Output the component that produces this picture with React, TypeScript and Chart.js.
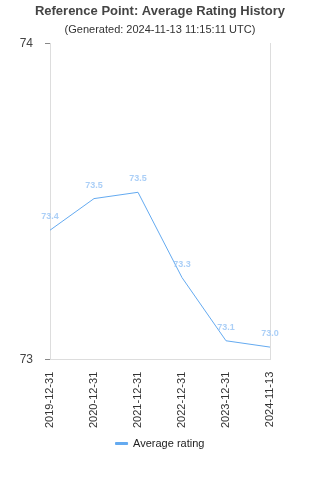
import React, { useEffect, useRef } from "react";
import { Chart, registerables } from "chart.js";

Chart.register(...registerables);

const categories = ["2019-12-31", "2020-12-31", "2021-12-31", "2022-12-31", "2023-12-31", "2024-11-13"];
const ratings = [73.41, 73.51, 73.53, 73.26, 73.06, 73.04];
const yTicks = [73, 74];

const labelPlugin = {
  id: "pointLabels",
  afterDatasetsDraw(chart: any) {
    const ctx = chart.ctx;
    const meta = chart.getDatasetMeta(0);
    ctx.save();
    ctx.font = "bold 9px 'Liberation Sans', Arial, sans-serif";
    ctx.fillStyle = "rgba(150,195,245,0.8)";
    ctx.textAlign = "center";
    ctx.textBaseline = "bottom";
    meta.data.forEach((pt: any, i: number) => {
      ctx.fillText(ratings[i].toFixed(1), pt.x, pt.y - 9);
    });
    ctx.restore();
  },
};

export default function App() {
  const ref = useRef<HTMLCanvasElement | null>(null);
  useEffect(() => {
    document.body.style.margin = "0";
    const chart = new Chart(ref.current!, {
      type: "line",
      data: {
        labels: categories,
        datasets: [
          {
            label: "Average rating",
            data: ratings,
            borderColor: "rgb(100,170,240)",
            backgroundColor: "rgb(100,170,240)",
            borderWidth: 1,
            pointRadius: 0,
            tension: 0,
          },
        ],
      },
      options: {
        animation: false,
        responsive: false,
        layout: { padding: { left: 0, right: 0, top: 0, bottom: 21 } },
        plugins: {
          title: {
            display: true,
            text: "Reference Point: Average Rating History",
            color: "#444",
            font: { family: "'Liberation Sans', Arial", size: 13, weight: "bold" },
            padding: { top: 4, bottom: 4 },
          },
          subtitle: {
            display: true,
            text: "(Generated: 2024-11-13 11:15:11 UTC)",
            color: "#333",
            font: { family: "'Liberation Sans', Arial", size: 11 },
            padding: { bottom: 7 },
          },
          legend: {
            position: "bottom",
            labels: {
              boxWidth: 12,
              boxHeight: 2,
              color: "#222",
              font: { family: "'Liberation Sans', Arial", size: 11 },
              padding: 6,
            },
          },
          tooltip: { enabled: false },
        },
        scales: {
          x: {
            offset: false,
            grid: { display: false },
            border: { color: "#ddd" },
            ticks: {
              color: "#333",
              maxRotation: 90,
              minRotation: 90,
              font: { family: "'Liberation Sans', Arial", size: 11 },
              padding: 4,
            },
          },
          y: {
            min: yTicks[0],
            max: yTicks[yTicks.length - 1],
            afterBuildTicks: (axis: any) => {
              axis.ticks = yTicks.map((v) => ({ value: v }));
            },
            afterFit: (axis: any) => {
              axis.width = 50;
            },
            grid: { drawOnChartArea: false, tickLength: 5, color: "#888" },
            border: { color: "#ddd" },
            ticks: {
              color: "#444",
              padding: 12,
              font: { family: "'Liberation Sans', Arial", size: 12 },
            },
          },
          y1: {
            position: "right",
            min: 73,
            max: 74,
            afterFit: (axis: any) => {
              axis.width = 50;
            },
            grid: { display: false },
            border: { color: "#ddd" },
            ticks: { display: false },
          },
        },
      },
      plugins: [labelPlugin],
    });
    return () => chart.destroy();
  }, []);
  return (
    <div style={{ width: 320, height: 480 }}>
      <canvas ref={ref} width={320} height={480} />
    </div>
  );
}
